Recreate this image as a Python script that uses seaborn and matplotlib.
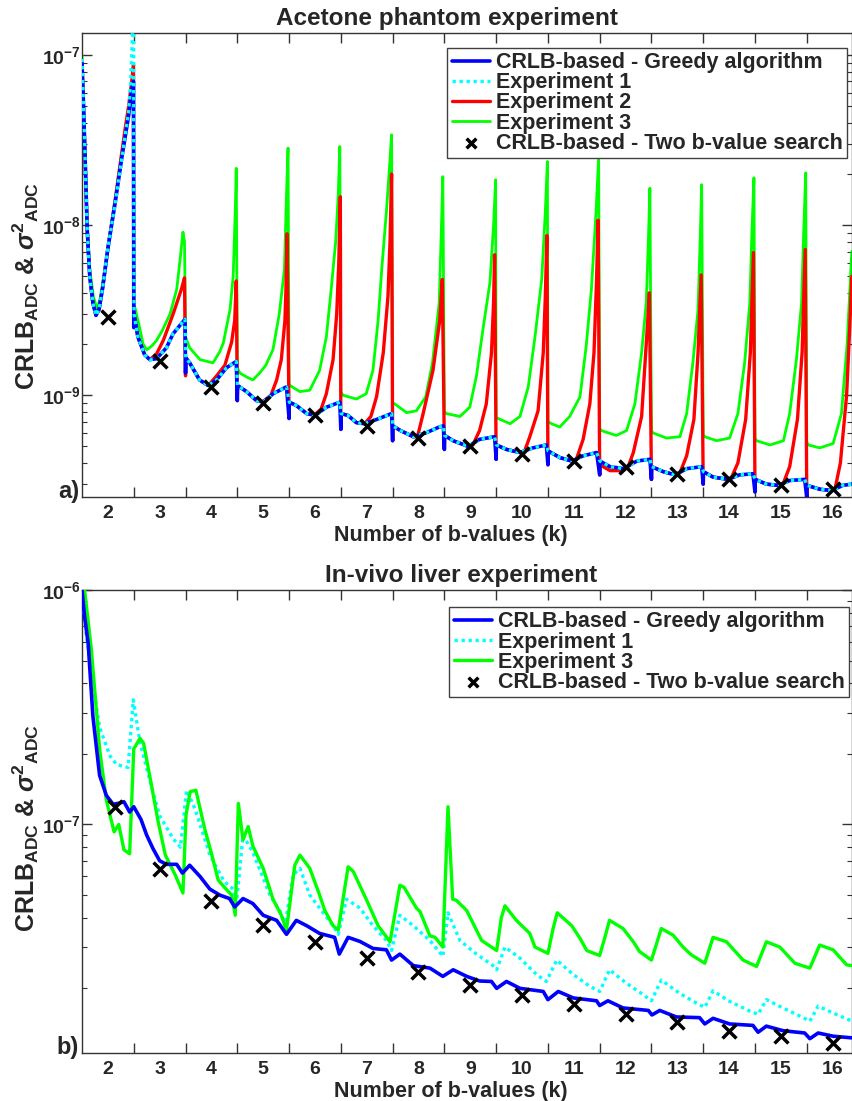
import matplotlib
matplotlib.use("Agg")
import matplotlib.pyplot as plt
import seaborn as sns
from matplotlib.ticker import LogLocator, NullFormatter

sns.set_theme(style="ticks")
plt.rcParams['font.family'] = ['Liberation Sans', 'DejaVu Sans']
plt.rcParams['font.weight'] = 'bold'
plt.rcParams['mathtext.fontset'] = 'custom'
plt.rcParams['mathtext.rm'] = 'Liberation Sans'
plt.rcParams['mathtext.it'] = 'Liberation Sans:italic'
plt.rcParams['mathtext.bf'] = 'Liberation Sans:bold'

# ---------------- data: (a) acetone phantom, one sub-list per k segment ----------------
k_values = [2, 3, 4, 5, 6, 7, 8, 9, 10, 11, 12, 13, 14, 15, 16]
k_bounds = [2.5, 3.5, 4.5, 5.5, 6.5, 7.5, 8.5, 9.5, 10.5, 11.5, 12.5, 13.5, 14.5, 15.5]

greedy_a_x = [
    [1.5, 1.53, 1.56, 1.6, 1.65, 1.71, 1.77, 1.83, 1.9, 2.0, 2.14, 2.27, 2.4, 2.46, 2.495],
    [2.5, 2.505, 2.58, 2.71, 2.81, 2.94, 3.13, 3.26, 3.49],
    [3.5, 3.505, 3.58, 3.77, 3.94, 4.1, 4.29, 4.48],
    [4.5, 4.505, 4.68, 4.87, 5.0, 5.19, 5.45],
    [5.5, 5.505, 5.64, 5.84, 6.0, 6.22, 6.48],
    [6.5, 6.505, 6.64, 6.8, 6.96, 7.19, 7.48],
    [7.5, 7.505, 7.65, 7.9, 8.14, 8.4, 8.48],
    [8.5, 8.505, 8.67, 8.96, 9.18, 9.47],
    [9.5, 9.505, 9.7, 9.96, 10.21, 10.47],
    [10.5, 10.505, 10.73, 10.96, 11.18, 11.44],
    [11.5, 11.505, 11.7, 11.96, 12.22, 12.47],
    [12.5, 12.505, 12.73, 12.96, 13.18, 13.47],
    [13.5, 13.505, 13.69, 13.98, 14.2, 14.46],
    [14.5, 14.505, 14.72, 14.95, 15.17, 15.46],
    [15.5, 15.505, 15.75, 15.98, 16.2, 16.37],
]
greedy_a_y = [
    [9.0e-8, 5.0e-8, 2.5e-8, 9.5e-9, 5.0e-9, 3.5e-9, 2.95e-9, 3.2e-9, 4.3e-9, 7.3e-9, 1.35e-8, 2.5e-8, 4.4e-8, 6.2e-8, 7.0e-8],
    [2.5e-9, 3.0e-9, 2.2e-9, 1.73e-9, 1.62e-9, 1.64e-9, 1.9e-9, 2.3e-9, 2.8e-9],
    [1.35e-9, 1.66e-9, 1.55e-9, 1.23e-9, 1.14e-9, 1.23e-9, 1.45e-9, 1.58e-9],
    [9.3e-10, 1.14e-9, 1.05e-9, 9.3e-10, 9.1e-10, 1.02e-9, 1.12e-9],
    [7.3e-10, 9.1e-10, 8.7e-10, 7.8e-10, 7.6e-10, 8.5e-10, 9.1e-10],
    [6.3e-10, 7.8e-10, 7.6e-10, 6.9e-10, 6.8e-10, 7.2e-10, 7.8e-10],
    [5.4e-10, 6.6e-10, 6.2e-10, 5.7e-10, 6.0e-10, 6.5e-10, 6.6e-10],
    [4.8e-10, 5.8e-10, 5.4e-10, 5.0e-10, 5.5e-10, 5.7e-10],
    [4.2e-10, 5.1e-10, 4.8e-10, 4.6e-10, 4.9e-10, 5.1e-10],
    [3.9e-10, 4.7e-10, 4.3e-10, 4.1e-10, 4.4e-10, 4.6e-10],
    [3.4e-10, 4.1e-10, 3.8e-10, 3.7e-10, 4.1e-10, 4.2e-10],
    [3.2e-10, 3.8e-10, 3.55e-10, 3.4e-10, 3.7e-10, 3.8e-10],
    [3.0e-10, 3.55e-10, 3.3e-10, 3.2e-10, 3.4e-10, 3.45e-10],
    [2.7e-10, 3.2e-10, 3.0e-10, 2.95e-10, 3.15e-10, 3.2e-10],
    [2.5e-10, 2.95e-10, 2.8e-10, 2.75e-10, 2.95e-10, 3.0e-10],
]

exp1_a_x = [
    [1.5, 1.53, 1.56, 1.6, 1.65, 1.71, 1.77, 1.83, 1.9, 2.0, 2.14, 2.27, 2.4, 2.44, 2.47, 2.495],
    [2.505, 2.58, 2.71, 2.81, 2.94, 3.13, 3.26, 3.49],
    [3.505, 3.58, 3.77, 3.94, 4.1, 4.29, 4.48],
    [4.505, 4.68, 4.87, 5.0, 5.19, 5.45],
    [5.505, 5.64, 5.84, 6.0, 6.22, 6.48],
    [6.505, 6.64, 6.8, 6.96, 7.19, 7.48],
    [7.505, 7.65, 7.9, 8.14, 8.4, 8.48],
    [8.505, 8.67, 8.96, 9.18, 9.47],
    [9.505, 9.7, 9.96, 10.21, 10.47],
    [10.505, 10.73, 10.96, 11.18, 11.44],
    [11.505, 11.7, 11.96, 12.22, 12.47],
    [12.505, 12.73, 12.96, 13.18, 13.47],
    [13.505, 13.69, 13.98, 14.2, 14.46],
    [14.505, 14.72, 14.95, 15.17, 15.46],
    [15.505, 15.75, 15.98, 16.2, 16.37],
]
exp1_a_y = [
    [9.5e-8, 5.0e-8, 2.5e-8, 9.5e-9, 5.0e-9, 3.5e-9, 2.95e-9, 3.2e-9, 4.3e-9, 7.3e-9, 1.35e-8, 2.5e-8, 4.6e-8, 7.0e-8, 1.2e-7, 3.0e-7],
    [3.0e-9, 2.2e-9, 1.73e-9, 1.62e-9, 1.64e-9, 1.9e-9, 2.3e-9, 2.8e-9],
    [1.66e-9, 1.55e-9, 1.23e-9, 1.14e-9, 1.23e-9, 1.45e-9, 1.58e-9],
    [1.14e-9, 1.05e-9, 9.3e-10, 9.1e-10, 1.02e-9, 1.12e-9],
    [9.1e-10, 8.7e-10, 7.8e-10, 7.6e-10, 8.5e-10, 9.1e-10],
    [7.8e-10, 7.6e-10, 6.9e-10, 6.8e-10, 7.2e-10, 7.8e-10],
    [6.6e-10, 6.2e-10, 5.7e-10, 6.0e-10, 6.5e-10, 6.6e-10],
    [5.8e-10, 5.4e-10, 5.0e-10, 5.5e-10, 5.7e-10],
    [5.1e-10, 4.8e-10, 4.6e-10, 4.9e-10, 5.1e-10],
    [4.7e-10, 4.3e-10, 4.1e-10, 4.4e-10, 4.6e-10],
    [4.1e-10, 3.8e-10, 3.7e-10, 4.1e-10, 4.2e-10],
    [3.8e-10, 3.55e-10, 3.4e-10, 3.7e-10, 3.8e-10],
    [3.55e-10, 3.3e-10, 3.2e-10, 3.4e-10, 3.45e-10],
    [3.2e-10, 3.0e-10, 2.95e-10, 3.15e-10, 3.2e-10],
    [2.95e-10, 2.8e-10, 2.75e-10, 2.95e-10, 3.0e-10],
]

exp2_a_x = [
    [1.5, 1.56, 1.6, 1.65, 1.71, 1.77, 1.83, 1.9, 2.0, 2.14, 2.27, 2.34, 2.4, 2.46, 2.495],
    [2.5, 2.505, 2.58, 2.71, 2.81, 2.94, 3.07, 3.26, 3.42, 3.48],
    [3.5, 3.505, 3.58, 3.77, 3.94, 4.1, 4.26, 4.39, 4.45, 4.48],
    [4.5, 4.505, 4.68, 4.87, 5.0, 5.15, 5.26, 5.35, 5.42, 5.44, 5.46],
    [5.5, 5.505, 5.64, 5.84, 6.0, 6.12, 6.22, 6.35, 6.42, 6.46, 6.49],
    [6.5, 6.505, 6.64, 6.8, 6.96, 7.08, 7.19, 7.32, 7.41, 7.45, 7.48],
    [7.5, 7.505, 7.65, 7.9, 7.98, 8.09, 8.28, 8.41, 8.46],
    [8.5, 8.505, 8.67, 8.96, 9.05, 9.18, 9.31, 9.41, 9.45, 9.47],
    [9.5, 9.505, 9.7, 9.96, 10.05, 10.15, 10.31, 10.41, 10.45, 10.48],
    [10.5, 10.505, 10.73, 10.96, 11.05, 11.18, 11.31, 11.39, 11.44, 11.47],
    [11.5, 11.505, 11.7, 11.96, 12.05, 12.15, 12.31, 12.39, 12.43, 12.46],
    [12.5, 12.505, 12.73, 12.96, 13.05, 13.18, 13.32, 13.4, 13.43, 13.46],
    [13.5, 13.505, 13.69, 13.98, 14.05, 14.17, 14.32, 14.41, 14.44, 14.47],
    [14.5, 14.505, 14.72, 14.95, 15.05, 15.17, 15.32, 15.41, 15.44, 15.47],
    [15.5, 15.505, 15.75, 15.98, 16.05, 16.15, 16.27, 16.33, 16.37],
]
exp2_a_y = [
    [9.0e-8, 2.5e-8, 9.5e-9, 5.0e-9, 3.5e-9, 2.95e-9, 3.2e-9, 4.3e-9, 7.3e-9, 1.4e-8, 2.7e-8, 3.8e-8, 5.0e-8, 7.0e-8, 8.8e-8],
    [2.5e-9, 3.0e-9, 2.2e-9, 1.73e-9, 1.62e-9, 1.75e-9, 2.1e-9, 3.0e-9, 4.2e-9, 4.9e-9],
    [1.3e-9, 1.66e-9, 1.55e-9, 1.23e-9, 1.14e-9, 1.3e-9, 1.5e-9, 2.05e-9, 2.75e-9, 4.7e-9],
    [9.3e-10, 1.14e-9, 1.05e-9, 9.3e-10, 9.2e-10, 1.0e-9, 1.23e-9, 1.62e-9, 2.75e-9, 4.2e-9, 8.9e-9],
    [7.3e-10, 9.1e-10, 8.7e-10, 7.8e-10, 7.7e-10, 8.3e-10, 1.02e-9, 1.62e-9, 3.0e-9, 6.0e-9, 1.47e-8],
    [6.3e-10, 7.8e-10, 7.6e-10, 6.9e-10, 6.8e-10, 7.5e-10, 9.8e-10, 1.78e-9, 3.8e-9, 8.0e-9, 2.0e-8],
    [5.4e-10, 6.6e-10, 6.2e-10, 5.7e-10, 5.7e-10, 7.8e-10, 1.4e-9, 2.75e-9, 4.8e-9],
    [4.8e-10, 5.8e-10, 5.4e-10, 5.0e-10, 5.1e-10, 6.2e-10, 8.9e-10, 1.78e-9, 3.5e-9, 6.7e-9],
    [4.2e-10, 5.1e-10, 4.8e-10, 4.6e-10, 4.7e-10, 5.7e-10, 8.1e-10, 1.78e-9, 3.8e-9, 8.7e-9],
    [3.9e-10, 4.7e-10, 4.3e-10, 4.1e-10, 4.2e-10, 5.5e-10, 8.9e-10, 1.78e-9, 4.8e-9, 1.07e-8],
    [3.4e-10, 3.9e-10, 3.6e-10, 3.6e-10, 3.8e-10, 4.6e-10, 7.5e-10, 1.78e-9, 2.8e-9, 4.0e-9],
    [3.2e-10, 3.8e-10, 3.55e-10, 3.4e-10, 3.5e-10, 4.4e-10, 7.2e-10, 1.78e-9, 3.0e-9, 5.1e-9],
    [3.0e-10, 3.55e-10, 3.3e-10, 3.2e-10, 3.3e-10, 4.0e-10, 7.2e-10, 1.78e-9, 3.5e-9, 6.9e-9],
    [2.7e-10, 3.2e-10, 3.0e-10, 2.95e-10, 3.05e-10, 3.8e-10, 7.2e-10, 1.78e-9, 3.5e-9, 7.2e-9],
    [2.5e-10, 2.95e-10, 2.8e-10, 2.75e-10, 2.85e-10, 4.0e-10, 1.0e-9, 2.5e-9, 5.0e-9],
]

exp3_a_x = [
    [1.5, 1.56, 1.6, 1.65, 1.72, 1.79, 1.85, 1.92, 2.0, 2.14, 2.27, 2.4, 2.46, 2.495],
    [2.5, 2.52, 2.6, 2.68, 2.75, 2.85, 2.94, 3.05, 3.2, 3.33, 3.4, 3.45, 3.48],
    [3.5, 3.58, 3.78, 4.03, 4.16, 4.23, 4.3, 4.36, 4.42, 4.46, 4.48],
    [4.5, 4.55, 4.68, 4.8, 4.93, 5.05, 5.19, 5.31, 5.41, 5.45, 5.48],
    [5.5, 5.6, 5.71, 5.9, 6.09, 6.22, 6.32, 6.4, 6.45, 6.48],
    [6.5, 6.54, 6.8, 6.99, 7.12, 7.22, 7.29, 7.38, 7.44, 7.48],
    [7.5, 7.54, 7.77, 7.96, 8.14, 8.27, 8.4, 8.44, 8.47],
    [8.5, 8.54, 8.8, 8.99, 9.12, 9.25, 9.38, 9.45, 9.49],
    [9.5, 9.58, 9.77, 9.96, 10.12, 10.25, 10.38, 10.45, 10.49],
    [10.5, 10.57, 10.73, 10.92, 11.12, 11.24, 11.34, 11.43, 11.48],
    [11.5, 11.53, 11.82, 12.02, 12.18, 12.31, 12.4, 12.44, 12.47],
    [12.5, 12.53, 12.79, 13.05, 13.18, 13.3, 13.4, 13.44, 13.47],
    [13.5, 13.53, 13.76, 14.01, 14.17, 14.3, 14.4, 14.44, 14.48],
    [14.5, 14.53, 14.79, 15.05, 15.17, 15.3, 15.4, 15.44, 15.48],
    [15.5, 15.53, 15.75, 16.01, 16.17, 16.28, 16.37],
]
exp3_a_y = [
    [1.0e-7, 2.6e-8, 1.0e-8, 5.5e-9, 3.8e-9, 3.2e-9, 3.7e-9, 5.0e-9, 7.3e-9, 1.4e-8, 2.6e-8, 4.5e-8, 6.0e-8, 6.5e-8],
    [3.3e-9, 3.3e-9, 2.6e-9, 2.0e-9, 1.85e-9, 1.95e-9, 2.1e-9, 2.4e-9, 3.0e-9, 4.2e-9, 6.5e-9, 9.1e-9, 8.0e-9],
    [2.2e-9, 1.9e-9, 1.62e-9, 1.55e-9, 1.8e-9, 2.03e-9, 2.6e-9, 3.2e-9, 5.0e-9, 1.2e-8, 2.16e-8],
    [1.45e-9, 1.35e-9, 1.28e-9, 1.23e-9, 1.35e-9, 1.5e-9, 1.86e-9, 3.0e-9, 5.5e-9, 1.5e-8, 2.84e-8],
    [1.15e-9, 1.1e-9, 1.05e-9, 1.07e-9, 1.4e-9, 2.2e-9, 4.4e-9, 8.0e-9, 1.5e-8, 2.9e-8],
    [1.05e-9, 1.0e-9, 9.5e-10, 1.02e-9, 1.4e-9, 2.75e-9, 5.5e-9, 1.2e-8, 2.2e-8, 3.4e-8],
    [9.0e-10, 8.9e-10, 7.9e-10, 8.1e-10, 9.8e-10, 1.55e-9, 3.5e-9, 9.0e-9, 1.93e-8],
    [8.0e-10, 7.8e-10, 7.5e-10, 8.5e-10, 1.3e-9, 2.5e-9, 4.6e-9, 1.0e-8, 1.85e-8],
    [7.4e-10, 7.2e-10, 6.8e-10, 7.5e-10, 1.12e-9, 2.2e-9, 4.8e-9, 1.2e-8, 2.37e-8],
    [7.0e-10, 6.8e-10, 6.5e-10, 7.5e-10, 9.8e-10, 1.95e-9, 4.2e-9, 1.2e-8, 2.5e-8],
    [6.4e-10, 6.2e-10, 5.8e-10, 6.2e-10, 8.9e-10, 1.78e-9, 3.5e-9, 8.0e-9, 1.65e-8],
    [6.2e-10, 6.0e-10, 5.6e-10, 5.7e-10, 7.8e-10, 1.55e-9, 3.2e-9, 8.0e-9, 1.73e-8],
    [5.9e-10, 5.7e-10, 5.4e-10, 5.6e-10, 7.8e-10, 1.55e-9, 3.5e-9, 9.0e-9, 1.9e-8],
    [5.6e-10, 5.4e-10, 5.1e-10, 5.4e-10, 7.8e-10, 1.62e-9, 3.5e-9, 9.0e-9, 2.03e-8],
    [5.3e-10, 5.1e-10, 4.9e-10, 5.2e-10, 7.8e-10, 2.0e-9, 7.0e-9],
]

two_b_a_x = [2, 3, 4, 5, 6, 7, 8, 9, 10, 11, 12, 13, 14, 15, 16]
two_b_a_y = [2.9e-9, 1.58e-9, 1.12e-9, 9.0e-10, 7.6e-10, 6.6e-10, 5.6e-10, 5.0e-10,
             4.5e-10, 4.1e-10, 3.8e-10, 3.45e-10, 3.2e-10, 2.95e-10, 2.8e-10]

# ---------------- data: (b) in-vivo liver ----------------
greedy_b_x = [1.5, 1.55, 1.62, 1.71, 1.84, 1.97, 2.10, 2.20, 2.31, 2.42, 2.50, 2.64, 2.75, 2.87, 3.0,
              3.13, 3.33, 3.44, 3.58, 3.78, 3.97, 4.16, 4.35, 4.45, 4.61, 4.80, 5.0, 5.26, 5.45, 5.64,
              5.84, 6.09, 6.38, 6.47, 6.64, 6.87, 7.12, 7.38, 7.48, 7.64, 7.90, 8.22, 8.47, 8.67, 8.93,
              9.18, 9.41, 9.51, 9.70, 9.96, 10.41, 10.50, 10.70, 10.99, 11.44, 11.50, 11.66, 11.95, 12.44, 12.51,
              12.66, 12.98, 13.43, 13.53, 13.69, 14.01, 14.46, 14.56, 14.72, 15.04, 15.46, 15.56, 15.72, 16.01, 16.37]
greedy_b_y = [1.0e-6, 7.7e-7, 5.9e-7, 2.9e-7, 1.62e-7, 1.33e-7, 1.22e-7, 1.23e-7, 1.25e-7, 1.13e-7, 1.19e-7, 1.05e-7, 9.0e-8, 7.9e-8, 7.0e-8,
              6.76e-8, 6.76e-8, 6.2e-8, 6.7e-8, 6.0e-8, 5.3e-8, 5.0e-8, 4.83e-8, 4.45e-8, 4.83e-8, 4.6e-8, 4.1e-8, 3.9e-8, 3.4e-8, 3.9e-8,
              3.7e-8, 3.43e-8, 3.3e-8, 2.8e-8, 3.3e-8, 3.17e-8, 2.96e-8, 2.92e-8, 2.64e-8, 2.8e-8, 2.5e-8, 2.44e-8, 2.25e-8, 2.4e-8, 2.25e-8,
              2.15e-8, 2.14e-8, 2.0e-8, 2.14e-8, 2.0e-8, 1.94e-8, 1.79e-8, 1.94e-8, 1.82e-8, 1.77e-8, 1.69e-8, 1.77e-8, 1.65e-8, 1.61e-8, 1.54e-8,
              1.61e-8, 1.51e-8, 1.5e-8, 1.41e-8, 1.49e-8, 1.41e-8, 1.39e-8, 1.3e-8, 1.38e-8, 1.32e-8, 1.29e-8, 1.22e-8, 1.29e-8, 1.25e-8, 1.23e-8]

exp1_b_x = [1.5, 1.58, 1.71, 1.84, 2.04, 2.17, 2.39, 2.49, 2.62, 2.82, 3.0, 3.26, 3.40, 3.52, 3.68,
            3.97, 4.25, 4.42, 4.48, 4.61, 4.80, 5.0, 5.13, 5.33, 5.42, 5.58, 5.71, 5.90, 6.09, 6.35,
            6.45, 6.61, 6.87, 7.12, 7.38, 7.48, 7.64, 7.90, 8.22, 8.47, 8.57, 8.80, 9.12, 9.44, 9.51,
            9.67, 9.96, 10.28, 10.47, 10.67, 10.99, 11.31, 11.50, 11.69, 12.02, 12.34, 12.50, 12.69, 13.05, 13.37,
            13.53, 13.69, 14.01, 14.40, 14.56, 14.72, 15.04, 15.43, 15.56, 15.72, 16.01, 16.37]
exp1_b_y = [1.0e-6, 6.5e-7, 4.0e-7, 2.6e-7, 1.96e-7, 1.8e-7, 1.75e-7, 3.4e-7, 2.24e-7, 1.51e-7, 1.09e-7, 8.7e-8, 8.0e-8, 1.4e-7, 1.17e-7,
            7.4e-8, 5.7e-8, 5.3e-8, 4.5e-8, 9.0e-8, 7.6e-8, 5.9e-8, 5.0e-8, 4.25e-8, 3.7e-8, 6.1e-8, 6.5e-8, 5.0e-8, 4.4e-8, 3.7e-8,
            3.4e-8, 4.8e-8, 4.4e-8, 3.7e-8, 3.2e-8, 2.9e-8, 4.1e-8, 3.7e-8, 3.2e-8, 2.74e-8, 4.2e-8, 3.2e-8, 2.8e-8, 2.5e-8, 2.4e-8,
            3.0e-8, 2.69e-8, 2.29e-8, 2.14e-8, 2.64e-8, 2.29e-8, 2.04e-8, 1.94e-8, 2.4e-8, 2.1e-8, 1.88e-8, 1.77e-8, 2.17e-8, 1.9e-8, 1.73e-8,
            1.66e-8, 1.95e-8, 1.76e-8, 1.6e-8, 1.55e-8, 1.79e-8, 1.65e-8, 1.5e-8, 1.45e-8, 1.68e-8, 1.57e-8, 1.45e-8]

exp3_b_x = [1.5, 1.55, 1.68, 1.84, 1.97, 2.12, 2.21, 2.31, 2.42, 2.50, 2.62, 2.69, 2.83, 2.97, 3.11,
            3.30, 3.45, 3.51, 3.59, 3.70, 3.87, 4.01, 4.13, 4.25, 4.39, 4.46, 4.52, 4.61, 4.71, 4.80,
            5.00, 5.19, 5.35, 5.45, 5.61, 5.71, 5.90, 6.09, 6.19, 6.35, 6.45, 6.64, 6.74, 6.99, 7.22,
            7.45, 7.64, 7.72, 7.96, 8.03, 8.22, 8.32, 8.47, 8.57, 8.66, 8.73, 8.93, 9.22, 9.51, 9.60,
            9.67, 9.89, 10.15, 10.25, 10.50, 10.60, 10.68, 10.96, 11.12, 11.25, 11.50, 11.60, 11.69, 11.95, 12.15,
            12.27, 12.50, 12.69, 12.92, 13.11, 13.27, 13.53, 13.69, 13.95, 14.27, 14.53, 14.72, 14.98, 15.27, 15.56,
            15.75, 16.01, 16.27, 16.37]
exp3_b_y = [1.2e-6, 1.0e-6, 5.6e-7, 2.1e-7, 1.27e-7, 9.3e-8, 1.0e-7, 7.8e-8, 7.5e-8, 2.1e-7, 2.33e-7, 2.22e-7, 1.52e-7, 1.03e-7, 7.4e-8,
            6.1e-8, 5.1e-8, 1.1e-7, 1.38e-7, 1.4e-7, 9.6e-8, 7.4e-8, 5.8e-8, 5.4e-8, 5.0e-8, 4.1e-8, 1.23e-7, 8.6e-8, 9.8e-8, 8.1e-8,
            6.5e-8, 4.8e-8, 4.1e-8, 3.55e-8, 6.7e-8, 7.4e-8, 6.5e-8, 5.0e-8, 4.3e-8, 3.7e-8, 3.55e-8, 6.6e-8, 6.3e-8, 4.8e-8, 3.7e-8,
            3.16e-8, 5.5e-8, 5.4e-8, 4.4e-8, 4.25e-8, 3.35e-8, 3.3e-8, 3.0e-8, 1.19e-7, 4.8e-8, 4.75e-8, 4.3e-8, 3.2e-8, 2.9e-8, 4.0e-8,
            4.5e-8, 3.9e-8, 3.43e-8, 3.0e-8, 2.82e-8, 3.6e-8, 4.2e-8, 3.7e-8, 3.27e-8, 2.9e-8, 2.76e-8, 3.3e-8, 3.9e-8, 3.6e-8, 3.16e-8,
            2.87e-8, 2.64e-8, 3.6e-8, 3.37e-8, 3.0e-8, 2.78e-8, 2.56e-8, 3.3e-8, 3.16e-8, 2.64e-8, 2.48e-8, 3.16e-8, 3.0e-8, 2.56e-8, 2.44e-8,
            3.06e-8, 2.92e-8, 2.52e-8, 2.5e-8]

two_b_b_x = [2.13, 3, 4, 5, 6, 7, 8, 9, 10, 11, 12, 13, 14, 15, 16]
two_b_b_y = [1.19e-7, 6.43e-8, 4.7e-8, 3.72e-8, 3.16e-8, 2.69e-8, 2.35e-8, 2.06e-8,
             1.88e-8, 1.71e-8, 1.56e-8, 1.44e-8, 1.32e-8, 1.25e-8, 1.17e-8]


def flat(nested):
    return [v for seg in nested for v in seg]


BLUE, CYAN, RED, GREEN = '#0000ff', '#00ffff', '#ff0000', '#00ff00'
DOT = (0, (1, 1.1))

fig = plt.figure(figsize=(8.52, 11.01), dpi=100)
ax_a = fig.add_axes([82 / 852, 604 / 1101, 770 / 852, 464 / 1101])
ax_b = fig.add_axes([82 / 852, 48 / 1101, 770 / 852, 463 / 1101])

# ---- panel a ----
line_kw = dict(sort=False, estimator=None)
sns.lineplot(x=flat(greedy_a_x), y=flat(greedy_a_y), ax=ax_a, color=BLUE, lw=2.6,
             label='CRLB-based - Greedy algorithm', zorder=4, **line_kw)
sns.lineplot(x=flat(exp1_a_x), y=flat(exp1_a_y), ax=ax_a, color=CYAN, lw=2.4, ls=DOT,
             label='Experiment 1', zorder=5, **line_kw)
sns.lineplot(x=flat(exp2_a_x), y=flat(exp2_a_y), ax=ax_a, color=RED, lw=2.4,
             label='Experiment 2', zorder=3, **line_kw)
sns.lineplot(x=flat(exp3_a_x), y=flat(exp3_a_y), ax=ax_a, color=GREEN, lw=2.0,
             label='Experiment 3', zorder=2, **line_kw)
sns.scatterplot(x=two_b_a_x, y=two_b_a_y, ax=ax_a, marker='x', s=100, color='black',
                linewidth=2.5, label='CRLB-based - Two b-value search', zorder=6)

# ---- panel b ----
sns.lineplot(x=greedy_b_x, y=greedy_b_y, ax=ax_b, color=BLUE, lw=2.6,
             label='CRLB-based - Greedy algorithm', zorder=5, **line_kw)
sns.lineplot(x=exp1_b_x, y=exp1_b_y, ax=ax_b, color=CYAN, lw=2.4, ls=DOT,
             label='Experiment 1', zorder=3, **line_kw)
sns.lineplot(x=exp3_b_x, y=exp3_b_y, ax=ax_b, color=GREEN, lw=2.4,
             label='Experiment 3', zorder=4, **line_kw)
sns.scatterplot(x=two_b_b_x, y=two_b_b_y, ax=ax_b, marker='x', s=100, color='black',
                linewidth=2.5, label='CRLB-based - Two b-value search', zorder=6)

ylab = r'CRLB$_{\mathrm{ADC}}$ & $\mathit{\sigma}^{2}{}_{\mathrm{ADC}}$'


def style(ax, title, title_x, ylim, yticks, ylabels, letter, leg_anchor, ylab_y):
    ax.set_yscale('log')
    ax.set_xlim(1.5, 16.374)
    ax.set_ylim(*ylim)
    ax.set_xticks(k_values)
    ax.set_xticklabels([str(k) for k in k_values])
    ax.set_xticks(k_bounds, minor=True)
    ax.set_yticks(yticks)
    ax.set_yticklabels(ylabels)
    ax.yaxis.set_minor_locator(LogLocator(base=10, subs=range(2, 10), numticks=20))
    ax.yaxis.set_minor_formatter(NullFormatter())
    ax.tick_params(axis='x', which='major', length=0, pad=6, labelsize=14)
    ax.tick_params(axis='x', which='minor', length=7, width=1, direction='in',
                   top=True, bottom=True, color='#333333')
    ax.tick_params(axis='y', which='major', length=7, width=1, direction='in',
                   left=True, right=True, pad=1, labelsize=14, color='#333333')
    ax.tick_params(axis='y', which='minor', length=3.5, width=0.8, direction='in',
                   left=True, right=True, color='#333333')
    for sp in ax.spines.values():
        sp.set_color('#333333')
        sp.set_linewidth(1.0)
    ax.set_title(title, fontsize=17.5, fontweight='bold', pad=6)
    ax.title.set_x(title_x)
    ax.set_xlabel('Number of b-values (k)', fontsize=15.5, fontweight='bold', labelpad=2, x=0.479)
    ax.set_ylabel(ylab, fontsize=18, fontweight='bold')
    ax.yaxis.set_label_coords(-0.053, ylab_y)
    ax.text(-0.004, 0.012, letter, transform=ax.transAxes, ha='right', va='center',
            fontsize=17, fontweight='bold')
    leg = ax.legend(loc='upper right', bbox_to_anchor=leg_anchor, fontsize=15.5,
                    frameon=True, fancybox=False, framealpha=1, edgecolor='#404040',
                    borderpad=0.2, labelspacing=-0.04, handlelength=1.8,
                    handletextpad=0.25, borderaxespad=0, markerscale=0.7)
    leg.get_frame().set_linewidth(1.0)


style(ax_a, 'Acetone phantom experiment', 0.474, (2.52e-10, 1.35e-7), [1e-9, 1e-8, 1e-7],
      [r'$\mathbf{10^{-9}}$', r'$\mathbf{10^{-8}}$', r'$\mathbf{10^{-7}}$'], 'a)',
      (0.9935, 0.968), 0.454)
style(ax_b, 'In-vivo liver experiment', 0.492, (1.06e-8, 1.0e-6), [1e-7, 1e-6],
      [r'$\mathbf{10^{-7}}$', r'$\mathbf{10^{-6}}$'], 'b)',
      (0.996, 0.963), 0.486)

fig.savefig('out.png', dpi=100)
